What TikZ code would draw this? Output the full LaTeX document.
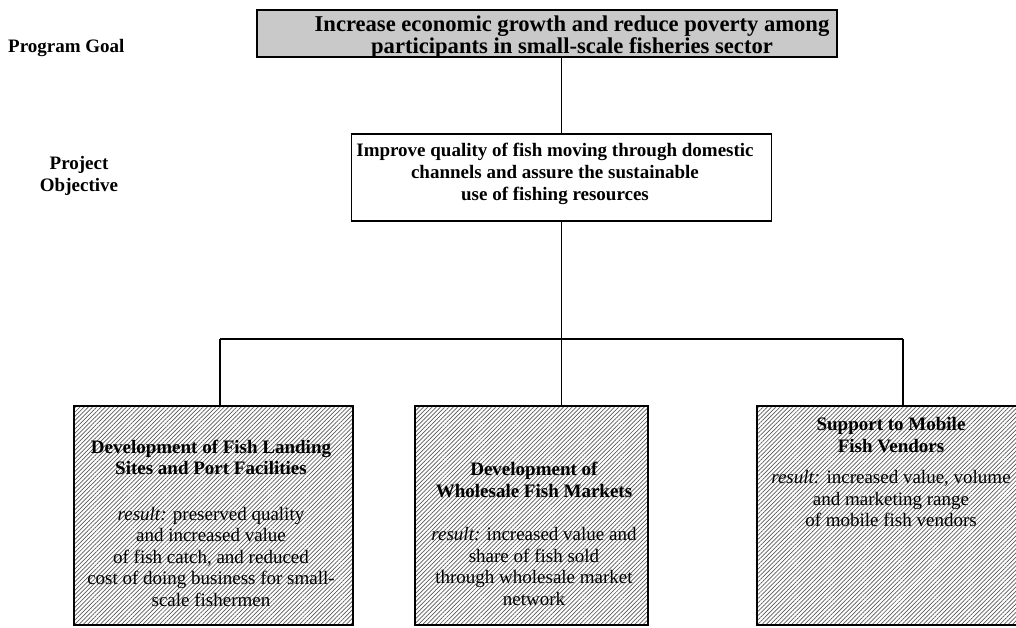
\documentclass[tikz,border=0pt]{standalone}
\usepackage{fontspec}
\setmainfont{Liberation Serif}
\usetikzlibrary{patterns.meta}
\begin{document}
\begin{tikzpicture}[x=1pt,y=-1pt,
  boxline/.style={draw=black, line width=1.8pt},
  conn/.style={draw=black, line width=1.4pt},
  goalbox/.style={boxline, fill=gray!42, rectangle, inner sep=0pt},
  objbox/.style={boxline, fill=white, rectangle, inner sep=0pt},
  hatchbox/.style={boxline, rectangle, inner sep=0pt,
    pattern={Lines[angle=45,distance=3pt,line width=0.7pt]}, pattern color=black!65},
  lbl/.style={font=\fontsize{19}{22}\selectfont\bfseries, align=center, inner sep=0pt},
  goaltext/.style={font=\fontsize{22.6}{19.5}\selectfont\bfseries, align=center, inner sep=0pt},
  body/.style={font=\fontsize{19}{21.5}\selectfont, align=center, inner sep=0pt},
]
\clip (0,0) rectangle (1016,627);

% boxes
\node[goalbox, minimum width=580pt, minimum height=47pt] (goal) at (547,33.5) {};
\node[objbox, minimum width=420pt, minimum height=87pt] (obj) at (561.5,177.5) {};
\node[hatchbox, minimum width=279pt, minimum height=219pt] (L) at (213.5,515.5) {};
\node[hatchbox, minimum width=233pt, minimum height=219pt] (M) at (531.5,515.5) {};
\node[hatchbox, minimum width=268pt, minimum height=219pt] (R) at (891,515.5) {};

% connectors
\coordinate (busL) at (220,339);
\coordinate (busR) at (903,339);
\draw[conn] (obj.north) -- (obj.north |- goal.south);
\draw[conn] (busL) -- (busR);
\draw[conn] (busL) -- (busL |- L.north);
\draw[conn] (obj.south) -- (obj.south |- M.north);
\draw[conn] (busR) -- (busR |- R.north);

% texts
\node[goaltext] (goaltxt) at (572,37) {Increase economic growth and reduce poverty among\\participants in small-scale fisheries sector};
\node[lbl] (objtxt) at (555,174) {Improve quality of fish moving through domestic\\channels and assure the sustainable\\use of fishing resources};
\node[lbl, anchor=west] (pglbl) at (8,48) {Program Goal};
\node[lbl] (polbl) at (79,176) {Project\\Objective};

\node[body] (Ltxt) at (211,523) {\textbf{Development of Fish Landing}\\\textbf{Sites and Port Facilities}\\[24pt]\textit{result:} preserved quality\\and increased value\\of fish catch, and reduced\\cost of doing business for small-\\scale fishermen};
\node[body] (Mtxt) at (534,534) {\textbf{Development of}\\\textbf{Wholesale Fish Markets}\\[22pt]\textit{result:} increased value and\\share of fish sold\\through wholesale market\\network};
\node[body] (Rtxt) at (891,472) {\textbf{Support to Mobile}\\\textbf{Fish Vendors}\\[10pt]\textit{result:} increased value, volume\\and marketing range\\of mobile fish vendors};
\end{tikzpicture}
\end{document}
